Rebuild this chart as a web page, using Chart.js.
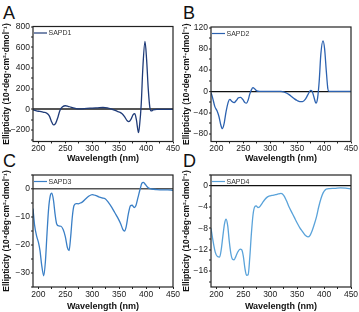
<!DOCTYPE html>
<html lang="en">
<head>
<meta charset="UTF-8">
<title>CD spectra SAPD1-4</title>
<script src="https://cdn.jsdelivr.net/npm/chart.js"></script>
<style>
  body { margin: 0; width: 359px; height: 312px; background: #fff; position: relative; overflow: hidden; font-family: "Liberation Sans", Arial, sans-serif; }
  .panel { position: absolute; }
  .tag { position: absolute; font-size: 18px; color: #111; line-height: 1; }
</style>
</head>
<body>
<div class="tag" style="left:3px;top:4px">A</div>
<div class="tag" style="left:183px;top:4px">B</div>
<div class="tag" style="left:3px;top:152px">C</div>
<div class="tag" style="left:183px;top:152px">D</div>

<div class="panel" style="left:0;top:0;width:182px;height:164px"><canvas id="chartA"></canvas></div>
<div class="panel" style="left:178px;top:0;width:181px;height:164px"><canvas id="chartB"></canvas></div>
<div class="panel" style="left:0;top:150px;width:182px;height:162px"><canvas id="chartC"></canvas></div>
<div class="panel" style="left:178px;top:150px;width:181px;height:162px"><canvas id="chartD"></canvas></div>

<script>
// wavelength (nm) and ellipticity values
const wlA = [190,195,200,205,210,215,220,225,228,232,236,240,245,250,255,260,265,270,275,280,290,300,310,320,328,335,340,345,350,355,360,365,368,372,376,379,382,386,388,391,394,398,401,404,407,410,413,420,430,440,450];
const sapd1 = [-5,-12,-18,-22,-28,-35,-60,-125,-150,-135,-80,-10,25,35,30,22,15,8,4,5,10,12,15,18,15,5,-5,-15,-25,-40,-70,-110,-118,-95,-50,-40,-100,-225,-150,50,400,655,480,200,20,-15,-5,0,0,0,0];

const wlB = [190,193,197,201,205,208,211,214,218,222,225,229,233,237,241,245,249,253,256,259,262,265,268,271,275,280,290,300,310,320,325,330,335,340,345,350,355,360,365,370,375,378,381,385,388,391,394,398,401,404,407,409,420,450];
const sapd2 = [-2,-12,-28,-36,-48,-62,-70,-62,-38,-20,-15,-19,-21,-17,-12,-11,-15,-21,-22,-16,-5,3,7,5,1,0,0,0,0,0,-1,-3,-6,-10,-14,-17,-19,-19,-15,-6,2,0,-10,-22,-12,20,70,95,80,40,5,0,0,0];

const wlC = [190,193,197,200,203,206,210,213,216,219,222,225,228,231,234,238,242,246,250,254,257,260,263,266,270,274,278,282,288,294,300,306,312,318,324,330,336,342,348,353,357,360,363,367,371,374,378,381,385,389,392,395,398,402,406,410,420,430,440,450];
const sapd3 = [-7,-13,-17,-19,-22,-27,-31,-26,-16,-7,-2.5,-1.5,-4,-9,-12.5,-13.2,-13.3,-14.5,-17,-21,-22,-17,-10,-6,-5.2,-5.3,-5,-4.6,-3.5,-2.5,-2,-2.3,-2.8,-3.2,-3.5,-4.8,-6.5,-8.5,-10.5,-12.5,-14.5,-15,-13.5,-9,-6,-5.8,-6.6,-6,-3,0,2,2.4,1.8,0.8,0.2,0,-0.2,-0.3,-0.3,-0.5];

const wlD = [190,194,198,202,206,209,212,215,218,221,224,227,230,233,236,240,244,247,250,253,256,259,262,265,268,271,274,277,280,285,290,295,300,305,310,315,320,325,330,335,340,345,350,355,360,365,370,374,378,382,386,390,394,398,402,406,410,420,430,440,450];
const sapd4 = [-8,-10.5,-12.5,-13.3,-13.4,-12,-9.5,-7.2,-6.3,-7.5,-10.5,-12.8,-13.8,-13.9,-13.3,-12.4,-11.9,-12,-13.2,-15.5,-16.8,-16.7,-13.5,-9,-5.5,-4,-3.8,-4.1,-4,-3.3,-2.6,-2.1,-1.9,-1.8,-1.7,-1.55,-1.45,-1.8,-2.8,-4,-5,-6,-7,-7.9,-8.6,-9.3,-9.6,-9.3,-8.4,-7.2,-5.8,-4,-2.5,-1.4,-0.8,-0.6,-0.55,-0.5,-0.4,-0.45,-0.6];

// tick labels
const xTicks = [200, 250, 300, 350, 400, 450];
const xMinor = [225, 275, 325, 375, 425];
const yTicksA = [-200, 0, 200, 400, 600, 800];
const yMinorA = [-300, -100, 100, 300, 500, 700];
const yTicksB = [-80, -40, 0, 40, 80, 120];
const yMinorB = [-60, -20, 20, 60, 100];
const yTicksC = [-30, -20, -10, 0];
const yMinorC = [-35, -25, -15, -5, 5];
const yTicksD = [-16, -12, -8, -4, 0];
const yMinorD = [-18, -14, -10, -6, -2, 2];

const FONT = '"Liberation Sans", Arial, sans-serif';
const Y_TITLE = 'Ellipticity (10\u2074deg\u00b7cm\u00b2\u00b7dmol\u207b\u00b9)';

// frame around plot area + small legend in the top-left corner
const framePlugin = {
    id: 'frame',
    afterDatasetsDraw(chart) {
        const { ctx, chartArea: a } = chart;
        const ds = chart.data.datasets[0];
        ctx.save();
        ctx.strokeStyle = '#222';
        ctx.lineWidth = 1.2;
        ctx.strokeRect(a.left, a.top, a.right - a.left, a.bottom - a.top);
        const y = a.top + 6.5;
        ctx.strokeStyle = ds.borderColor;
        ctx.lineWidth = 1.2;
        ctx.beginPath();
        ctx.moveTo(a.left + 1, y);
        ctx.lineTo(a.left + 14, y);
        ctx.stroke();
        ctx.fillStyle = '#333';
        ctx.font = '7px ' + FONT;
        ctx.textBaseline = 'middle';
        ctx.fillText(ds.label, a.left + 15.5, y + 0.5);
        ctx.restore();
    }
};

function fmt(v) {
    return v < 0 ? '\u2212' + Math.abs(v) : String(v);
}

function makeChart(id, wl, vals, o) {
    const yAll = o.yTicks.concat(o.yMinor);
    const xAll = xTicks.concat(xMinor);
    return new Chart(document.getElementById(id), {
        type: 'line',
        data: {
            datasets: [{
                label: o.label,
                data: wl.map((w, i) => ({ x: w, y: vals[i] })),
                borderColor: o.color,
                borderWidth: 1.3,
                pointRadius: 0,
                cubicInterpolationMode: 'monotone',
                fill: false
            }]
        },
        options: {
            responsive: true,
            maintainAspectRatio: false,
            animation: false,
            events: [],
            layout: { padding: { top: o.padTop, right: o.padRight, left: 0, bottom: 0 } },
            plugins: { legend: { display: false }, tooltip: { enabled: false } },
            scales: {
                x: {
                    type: 'linear',
                    min: 190,
                    max: 450,
                    afterBuildTicks: s => { s.ticks = xAll.map(v => ({ value: v })); },
                    afterFit: s => { s.height = o.xHeight; },
                    border: { display: false },
                    grid: { color: 'rgba(0,0,0,0)', tickColor: '#222', tickLength: 2, tickWidth: 1 },
                    ticks: {
                        autoSkip: false,
                        maxRotation: 0,
                        padding: 1,
                        color: '#222',
                        font: { family: FONT, size: 8.5, lineHeight: 1 },
                        callback: v => xTicks.includes(v) ? String(v) : ''
                    },
                    title: {
                        display: true,
                        text: 'Wavelength (nm)',
                        color: '#111',
                        padding: { top: 0, bottom: 0.6 },
                        font: { family: FONT, size: 9, weight: 'bold', lineHeight: 1 }
                    }
                },
                y: {
                    min: o.yMin,
                    max: o.yMax,
                    afterBuildTicks: s => { s.ticks = yAll.filter(v => v >= o.yMin && v <= o.yMax).map(v => ({ value: v })); },
                    afterFit: s => { s.width = 33; },
                    border: { display: false },
                    grid: {
                        color: c => (c.tick && c.tick.value === 0) ? o.zeroColor : 'rgba(0,0,0,0)',
                        lineWidth: c => (c.tick && c.tick.value === 0) ? o.zeroWidth : 0,
                        tickColor: '#222',
                        tickLength: 2,
                        tickWidth: 1
                    },
                    ticks: {
                        autoSkip: false,
                        padding: 1,
                        color: '#222',
                        font: { family: FONT, size: 8.5, lineHeight: 1 },
                        callback: v => o.yTicks.includes(v) ? fmt(v) : ''
                    },
                    title: {
                        display: true,
                        text: Y_TITLE,
                        color: '#111',
                        padding: { top: o.titlePad, bottom: 0 },
                        font: { family: FONT, size: 8.5, weight: 'bold', lineHeight: 1 }
                    }
                }
            }
        },
        plugins: [framePlugin]
    });
}

makeChart('chartA', wlA, sapd1, {
    label: 'SAPD1', color: '#1f3b78', yMin: -310, yMax: 800, yTicks: yTicksA, yMinor: yMinorA,
    padTop: 26.5, padRight: 9, xHeight: 22.5, zeroColor: '#555', zeroWidth: 2, titlePad: 2.5
});
makeChart('chartB', wlB, sapd2, {
    label: 'SAPD2', color: '#2c62b0', yMin: -94, yMax: 121, yTicks: yTicksB, yMinor: yMinorB,
    padTop: 27, padRight: 8, xHeight: 22.5, zeroColor: '#111', zeroWidth: 1.2, titlePad: 4.5
});
makeChart('chartC', wlC, sapd3, {
    label: 'SAPD3', color: '#3a7fc6', yMin: -35, yMax: 5, yTicks: yTicksC, yMinor: yMinorC,
    padTop: 25, padRight: 9, xHeight: 25, zeroColor: '#555', zeroWidth: 1.6, titlePad: 2.5
});
makeChart('chartD', wlD, sapd4, {
    label: 'SAPD4', color: '#5aa3da', yMin: -19, yMax: 2, yTicks: yTicksD, yMinor: yMinorD,
    padTop: 25, padRight: 8, xHeight: 25, zeroColor: '#111', zeroWidth: 1.2, titlePad: 4.5
});
</script>
</body>
</html>
